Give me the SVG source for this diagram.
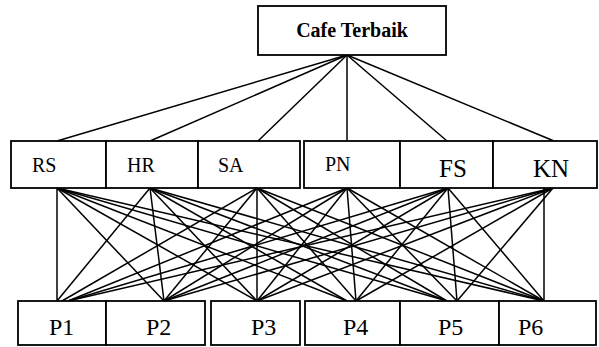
<svg xmlns="http://www.w3.org/2000/svg" width="599" height="347" viewBox="0 0 599 347">
<style>
.box{fill:#fff;stroke:#000;stroke-width:1.8}
.t{font-family:"Liberation Serif","Times New Roman",serif;fill:#000}
.c line{stroke:#000;stroke-width:1.5}
</style>
<rect width="599" height="347" fill="#fff"/>
<g class="c" id="connectors">
<line x1="347" y1="55" x2="57" y2="141"/>
<line x1="347" y1="55" x2="150" y2="141"/>
<line x1="347" y1="55" x2="258" y2="141"/>
<line x1="347" y1="55" x2="347" y2="141"/>
<line x1="347" y1="55" x2="447" y2="141"/>
<line x1="347" y1="55" x2="554" y2="141"/>
<line x1="57" y1="188" x2="57" y2="301"/>
<line x1="57" y1="188" x2="164" y2="301"/>
<line x1="57" y1="188" x2="257" y2="301"/>
<line x1="57" y1="188" x2="347" y2="301"/>
<line x1="57" y1="188" x2="447" y2="301"/>
<line x1="57" y1="188" x2="544" y2="301"/>
<line x1="150" y1="188" x2="57" y2="301"/>
<line x1="150" y1="188" x2="164" y2="301"/>
<line x1="150" y1="188" x2="257" y2="301"/>
<line x1="150" y1="188" x2="347" y2="301"/>
<line x1="150" y1="188" x2="447" y2="301"/>
<line x1="150" y1="188" x2="544" y2="301"/>
<line x1="257" y1="188" x2="62" y2="301"/>
<line x1="257" y1="188" x2="164" y2="301"/>
<line x1="257" y1="188" x2="257" y2="301"/>
<line x1="257" y1="188" x2="356" y2="301"/>
<line x1="257" y1="188" x2="447" y2="301"/>
<line x1="257" y1="188" x2="544" y2="301"/>
<line x1="347" y1="188" x2="68" y2="301"/>
<line x1="347" y1="188" x2="164" y2="301"/>
<line x1="347" y1="188" x2="257" y2="301"/>
<line x1="347" y1="188" x2="356" y2="301"/>
<line x1="347" y1="188" x2="457" y2="301"/>
<line x1="347" y1="188" x2="544" y2="301"/>
<line x1="448" y1="188" x2="68" y2="301"/>
<line x1="448" y1="188" x2="164" y2="301"/>
<line x1="448" y1="188" x2="257" y2="301"/>
<line x1="448" y1="188" x2="356" y2="301"/>
<line x1="448" y1="188" x2="457" y2="301"/>
<line x1="448" y1="188" x2="544" y2="301"/>
<line x1="553" y1="188" x2="68" y2="301"/>
<line x1="553" y1="188" x2="164" y2="301"/>
<line x1="553" y1="188" x2="257" y2="301"/>
<line x1="553" y1="188" x2="356" y2="301"/>
<line x1="553" y1="188" x2="457" y2="301"/>
<line x1="544" y1="188" x2="544" y2="301"/>
</g>
<g id="cafe-terbaik">
<rect class="box" x="258" y="6" width="188" height="49"/>
<text class="t" x="352" y="37" font-size="20" font-weight="bold" text-anchor="middle">Cafe Terbaik</text>
</g>
<g id="RS"><rect class="box" x="11" y="141" width="95" height="47"/><text class="t" x="32" y="172" font-size="20">RS</text></g>
<g id="HR"><rect class="box" x="106" y="141" width="92" height="47"/><text class="t" x="127" y="172" font-size="20">HR</text></g>
<g id="SA"><rect class="box" x="198" y="141" width="102" height="47"/><text class="t" x="218" y="172" font-size="20">SA</text></g>
<g id="PN"><rect class="box" x="304" y="141" width="96" height="47"/><text class="t" x="325" y="171" font-size="20">PN</text></g>
<g id="FS"><rect class="box" x="400" y="141" width="93" height="47"/><text class="t" x="439" y="177" font-size="25">FS</text></g>
<g id="KN"><rect class="box" x="493" y="141" width="104" height="47"/><text class="t" x="533" y="177" font-size="25">KN</text></g>
<g id="P1"><rect class="box" x="18" y="301" width="88" height="44"/><text class="t" x="49" y="335" font-size="24">P1</text></g>
<g id="P2"><rect class="box" x="106" y="301" width="99" height="44"/><text class="t" x="146" y="335" font-size="24">P2</text></g>
<g id="P3"><rect class="box" x="211" y="301" width="89" height="44"/><text class="t" x="251" y="335" font-size="24">P3</text></g>
<g id="P4"><rect class="box" x="305" y="301" width="95" height="44"/><text class="t" x="343" y="335" font-size="24">P4</text></g>
<g id="P5"><rect class="box" x="400" y="301" width="99" height="44"/><text class="t" x="438" y="335" font-size="24">P5</text></g>
<g id="P6"><rect class="box" x="499" y="301" width="97" height="44"/><text class="t" x="518" y="335" font-size="24">P6</text></g>
</svg>
